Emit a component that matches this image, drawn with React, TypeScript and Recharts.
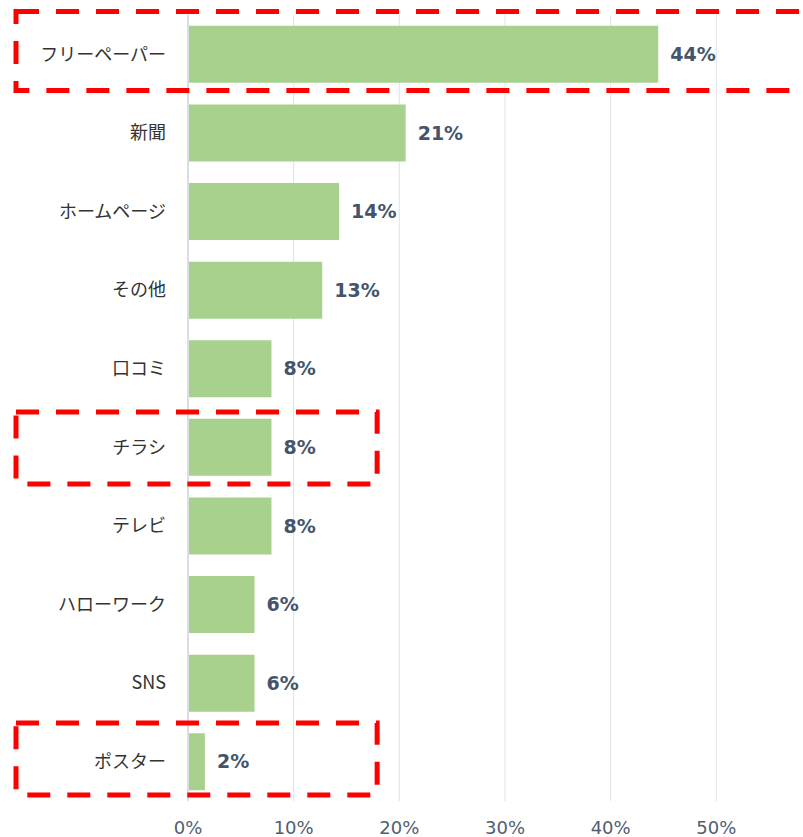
import React from "react";
import { BarChart, Bar, XAxis, YAxis, CartesianGrid, LabelList, ReferenceLine } from "recharts";

const categories = ["フリーペーパー", "新聞", "ホームページ", "その他", "口コミ", "チラシ", "テレビ", "ハローワーク", "SNS", "ポスター"];
const values = [44.5, 20.6, 14.3, 12.7, 7.9, 7.9, 7.9, 6.3, 6.3, 1.6];
const valueLabels = ["44%", "21%", "14%", "13%", "8%", "8%", "8%", "6%", "6%", "2%"];
const xTicks = [0, 10, 20, 30, 40, 50];
const xDomain: [number, number] = [0, 60];

// highlighted categories with right extent (in % units) and vertical padding
const highlights = [
  { name: "フリーペーパー", right: 62, padTop: -3.5, padBottom: -1 },
  { name: "チラシ", right: 17.9, padTop: 4, padBottom: -0.5 },
  { name: "ポスター", right: 17.9, padTop: 0.6, padBottom: -4 },
];

const data = categories.map((name, i) => ({ name, value: values[i], label: valueLabels[i] }));

const W = 822;
const H = 837;
const M = { top: 15, right: 0, bottom: 0, left: 0 };
const YW = 188;
const XH = 36;
const plotLeft = M.left + YW;
const plotRight = W - M.right;
const plotTop = M.top;
const plotBottom = H - M.bottom - XH;
const band = (plotBottom - plotTop) / categories.length;
const xScale = (v: number) => plotLeft + ((v - xDomain[0]) / (xDomain[1] - xDomain[0])) * (plotRight - plotLeft);

export default function App() {
  return (
    <div style={{ position: "relative", width: 803, height: 837, overflow: "hidden", background: "#fff" }}>
      <style>{"body{margin:0;overflow:hidden}"}</style>
      <BarChart
        width={W}
        height={H}
        data={data}
        layout="vertical"
        margin={M}
        barCategoryGap="13.8%"
      >
        <CartesianGrid horizontal={false} vertical={true} stroke="#e2e7ee" strokeWidth={1.2} />
        <XAxis
          type="number"
          domain={xDomain}
          ticks={xTicks}
          tickFormatter={(v: number) => `${v}%`}
          axisLine={false}
          tickLine={false}
          tickSize={0}
          tickMargin={20}
          height={XH}
          interval={0}
          tick={{ fill: "#4f5d73", fontSize: 18, fontFamily: "'DejaVu Sans', sans-serif" }}
        />
        <YAxis
          type="category"
          dataKey="name"
          width={YW}
          axisLine={false}
          tickLine={false}
          tickSize={0}
          tickMargin={22}
          interval={0}
          tick={{ fill: "#333333", fontSize: 18, fontFamily: "'Noto Sans CJK JP', 'Noto Sans', sans-serif" }}
        />
        <ReferenceLine x={0} stroke="#d9dee6" strokeWidth={2} />
        <Bar dataKey="value" fill="#a9d18e" isAnimationActive={false}>
          <LabelList
            dataKey="label"
            position="right"
            offset={12}
            fill="#44546a"
            fontSize={19}
            fontWeight="bold"
            fontFamily="'DejaVu Sans', sans-serif"
          />
        </Bar>
      </BarChart>
      <svg
        width={803}
        height={837}
        style={{ position: "absolute", left: 0, top: 0, pointerEvents: "none" }}
      >
        {highlights.map((h) => {
          const idx = categories.indexOf(h.name);
          const y1 = plotTop + idx * band + h.padTop;
          const y2 = plotTop + (idx + 1) * band + h.padBottom - 2;
          const x1 = 16;
          const x2 = xScale(h.right);
          return (
            <rect
              key={h.name}
              x={x1}
              y={y1}
              width={x2 - x1}
              height={y2 - y1}
              fill="none"
              stroke="#ff0000"
              strokeWidth={5}
              strokeDasharray="23 17"
            />
          );
        })}
      </svg>
    </div>
  );
}
